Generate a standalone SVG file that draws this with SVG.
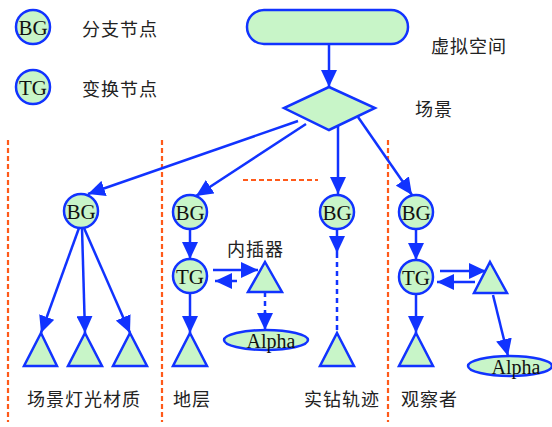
<svg xmlns="http://www.w3.org/2000/svg" width="552" height="427" viewBox="0 0 552 427">
<style>
.n{fill:#c8f5c8;stroke:#1133ff;stroke-width:2.5}
.c{fill:none;stroke:#1133ff;stroke-width:2.5}
.d{fill:none;stroke:#1133ff;stroke-width:2.5;stroke-dasharray:5 4}
.o{fill:none;stroke:#ff5a1a;stroke-width:2.2;stroke-dasharray:5 3}
.t{font-family:"Liberation Serif",serif;font-size:21px;fill:#111;text-anchor:middle;dominant-baseline:central}
.a{font-family:"Liberation Serif",serif;font-size:20px;fill:#111;text-anchor:middle;dominant-baseline:central}
.z{font-family:"Noto Sans CJK SC","Noto Sans CJK JP",sans-serif;font-size:18px;fill:#222;dominant-baseline:central;letter-spacing:1px}
</style>
<defs>
<marker id="ah" markerUnits="userSpaceOnUse" markerWidth="18" markerHeight="16" refX="17" refY="8" orient="auto">
<path d="M0,0 L17,8 L0,16 z" fill="#1133ff"/>
</marker>
</defs>
<g id="separators">
<line class="o" x1="8" y1="140" x2="8" y2="422"/>
<line class="o" x1="162" y1="140" x2="162" y2="422"/>
<line class="o" x1="388" y1="140" x2="388" y2="422"/>
<line class="o" x1="243" y1="180" x2="318" y2="180"/>
</g>
<g id="legend-bg"><circle class="n" cx="33" cy="27" r="17"/><text class="t" x="33" y="28">BG</text><text class="z" x="82" y="28">分支节点</text></g>
<g id="legend-tg"><circle class="n" cx="33" cy="87" r="17"/><text class="t" x="33" y="88">TG</text><text class="z" x="82" y="88">变换节点</text></g>
<g id="virtual-space"><rect class="n" x="247" y="10" width="161" height="34" rx="17"/><text class="z" x="431" y="45">虚拟空间</text></g>
<g id="scene"><polygon class="n" points="329,87 375,108 329,130 284,108"/><text class="z" x="415" y="108">场景</text></g>
<g id="bg1"><circle class="n" cx="81" cy="211" r="17"/><text class="t" x="81" y="212">BG</text></g>
<g id="bg2"><circle class="n" cx="190" cy="212" r="17"/><text class="t" x="190" y="213">BG</text></g>
<g id="bg3"><circle class="n" cx="337" cy="212" r="17"/><text class="t" x="337" y="213">BG</text></g>
<g id="bg4"><circle class="n" cx="416" cy="212" r="17"/><text class="t" x="416" y="213">BG</text></g>
<g id="tg2"><circle class="n" cx="190" cy="276" r="17"/><text class="t" x="190" y="277">TG</text></g>
<g id="tg4"><circle class="n" cx="416" cy="277" r="17"/><text class="t" x="416" y="278">TG</text></g>
<g id="leaf-light1"><polygon class="n" points="41,333 57,366 24,366"/></g>
<g id="leaf-light2"><polygon class="n" points="85,333 102,366 68,366"/></g>
<g id="leaf-light3"><polygon class="n" points="130,333 147,366 113,366"/></g>
<g id="leaf-layer"><polygon class="n" points="190,333 207,366 173,366"/></g>
<g id="interp1"><polygon class="n" points="265,262 282,292 248,292"/><text class="z" x="227" y="248">内插器</text></g>
<g id="alpha1"><ellipse class="n" cx="266" cy="340" rx="42" ry="10"/><text class="a" x="271" y="341">Alpha</text></g>
<g id="leaf-track"><polygon class="n" points="337,333 354,366 320,366"/></g>
<g id="leaf-observer"><polygon class="n" points="416,333 433,366 399,366"/></g>
<g id="interp2"><polygon class="n" points="490,262 507,293 474,293"/></g>
<g id="alpha2"><ellipse class="n" cx="510" cy="366" rx="42" ry="10"/><text class="a" x="516" y="367">Alpha</text></g>
<g id="labels">
<text class="z" x="27" y="398">场景灯光材质</text>
<text class="z" x="173" y="398">地层</text>
<text class="z" x="304" y="398">实钻轨迹</text>
<text class="z" x="401" y="398">观察者</text>
</g>
<g id="connectors">
<line class="c" x1="329" y1="44" x2="329" y2="87" marker-end="url(#ah)"/>
<line class="c" x1="298" y1="121" x2="88" y2="194" marker-end="url(#ah)"/>
<line class="c" x1="306" y1="124" x2="196" y2="196" marker-end="url(#ah)"/>
<line class="c" x1="338" y1="126" x2="338" y2="194" marker-end="url(#ah)"/>
<line class="c" x1="358" y1="117" x2="412" y2="195" marker-end="url(#ah)"/>
<line class="c" x1="79" y1="228" x2="41" y2="333" marker-end="url(#ah)"/>
<line class="c" x1="82" y1="228" x2="85" y2="333" marker-end="url(#ah)"/>
<line class="c" x1="84" y1="228" x2="130" y2="333" marker-end="url(#ah)"/>
<line class="c" x1="190" y1="229" x2="190" y2="259" marker-end="url(#ah)"/>
<line class="c" x1="190" y1="293" x2="190" y2="333" marker-end="url(#ah)"/>
<line class="c" x1="213" y1="270" x2="258" y2="270" marker-end="url(#ah)"/>
<line class="c" x1="237" y1="281" x2="215" y2="281" marker-end="url(#ah)"/>
<line class="d" x1="265" y1="292" x2="265" y2="313"/>
<line class="c" x1="265" y1="312" x2="265" y2="330" marker-end="url(#ah)"/>
<line class="c" x1="337" y1="229" x2="337" y2="253" marker-end="url(#ah)"/>
<line class="d" x1="337" y1="253" x2="337" y2="333"/>
<line class="c" x1="416" y1="229" x2="416" y2="260" marker-end="url(#ah)"/>
<line class="c" x1="416" y1="294" x2="416" y2="333" marker-end="url(#ah)"/>
<line class="c" x1="440" y1="271" x2="486" y2="271" marker-end="url(#ah)"/>
<line class="c" x1="475" y1="282" x2="437" y2="282" marker-end="url(#ah)"/>
<line class="c" x1="493" y1="295" x2="508" y2="356" marker-end="url(#ah)"/>
</g>
</svg>
